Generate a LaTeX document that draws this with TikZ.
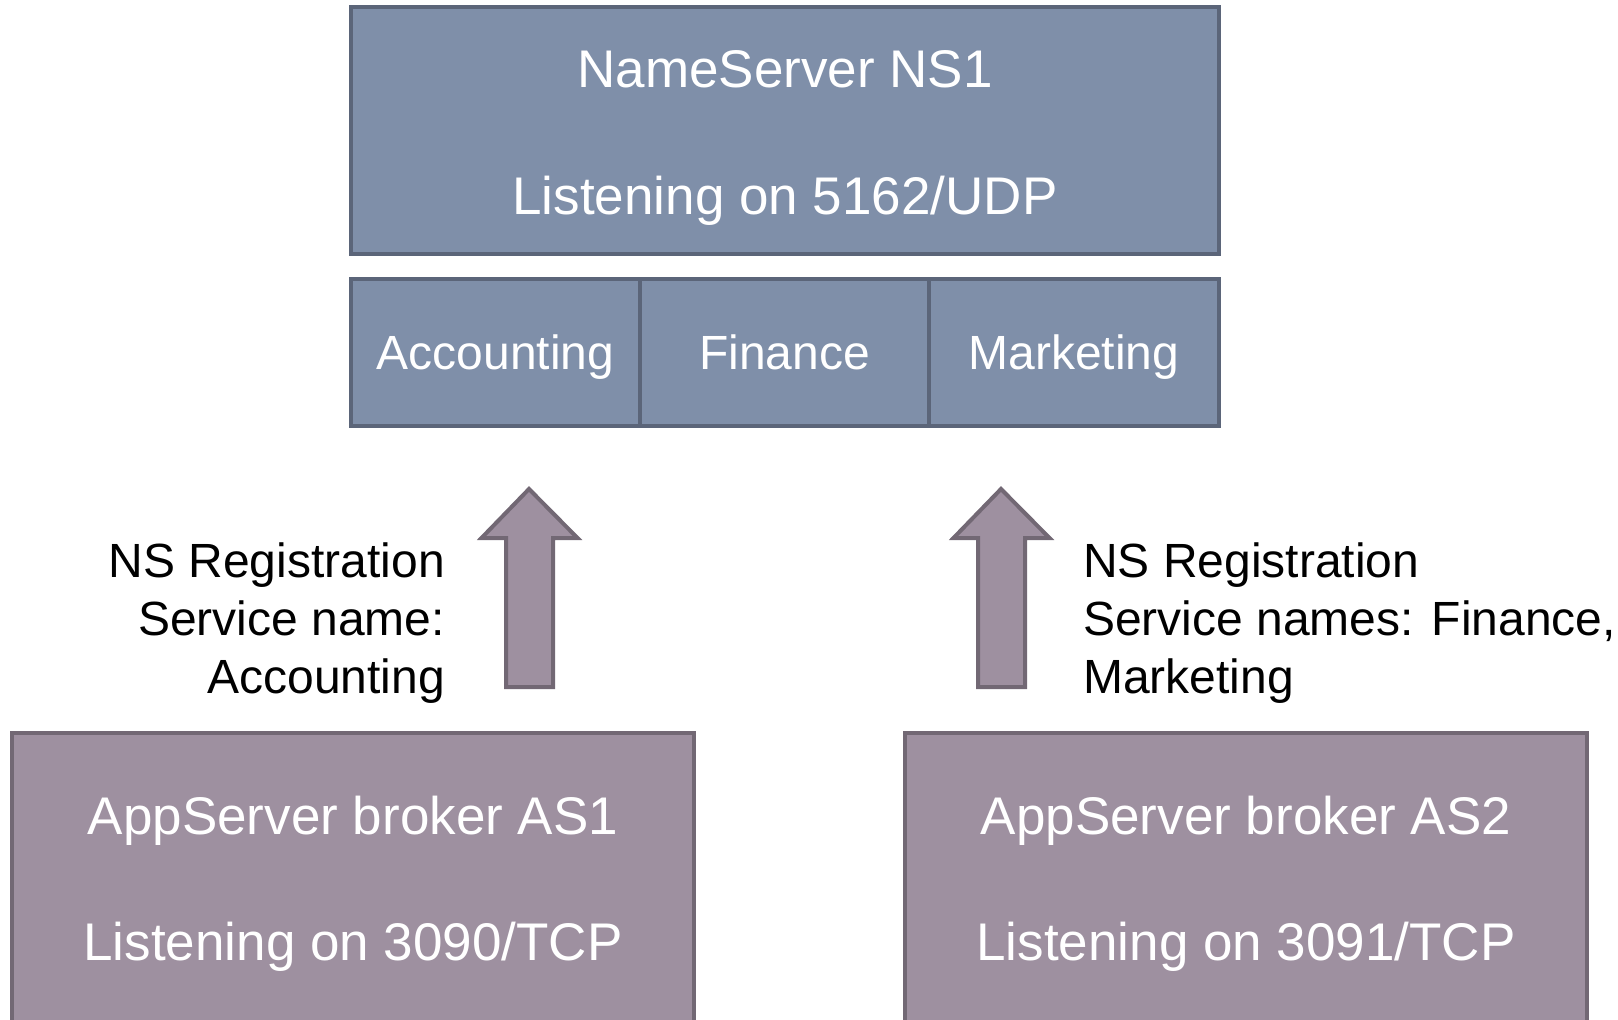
\documentclass[tikz,border=0pt]{standalone}
\usepackage{fontspec}
\setmainfont{Liberation Sans}
\definecolor{nsfill}{RGB}{127,143,169}
\definecolor{nsline}{RGB}{91,101,121}
\definecolor{asfill}{RGB}{158,144,160}
\definecolor{asline}{RGB}{114,104,116}
\begin{document}
\begin{tikzpicture}[x=1pt,y=-1pt,
  nsbox/.style={draw=nsline, fill=nsfill, line width=4pt, rectangle, inner sep=0pt},
  asbox/.style={draw=asline, fill=asfill, line width=4pt, rectangle, inner sep=0pt},
  bigtext/.style={text=white, font=\fontsize{53}{64}\selectfont, inner sep=0pt, anchor=base},
  svctext/.style={text=white, font=\fontsize{48}{58}\selectfont, text height=44pt, text depth=10pt},
  lbl/.style={font=\fontsize{48}{57.8}\selectfont, inner sep=0pt},
  blockarrow/.style={draw=asline, fill=asfill, line width=4pt, line join=miter}]
\useasboundingbox (0,0) rectangle (1618,1020);
\clip (0,0) rectangle (1618,1020);

% name server
\node[nsbox, minimum width=868pt, minimum height=247pt] (ns) at (785,130.5) {};
\node[bigtext] (nsname) at (785,87) {NameServer NS1};
\node[bigtext] (nsport) at (785,214) {Listening on 5162/UDP};

% registered services
\node[nsbox, svctext, minimum width=289pt, minimum height=147pt] (acc) at (495.5,352.5) {Accounting};
\node[nsbox, svctext, minimum width=289pt, minimum height=147pt] (fin) at (784.5,352.5) {Finance};
\node[nsbox, svctext, minimum width=290pt, minimum height=147pt] (mkt) at (1074,352.5) {Marketing};

% application server brokers
\node[asbox, minimum width=682pt, minimum height=340pt] (as1) at (353,903) {};
\node[bigtext] (as1name) at (353,834) {AppServer broker AS1};
\node[bigtext] (as1port) at (353,960) {Listening on 3090/TCP};
\node[asbox, minimum width=682pt, minimum height=340pt] (as2) at (1246,903) {};
\node[bigtext] (as2name) at (1246,834) {AppServer broker AS2};
\node[bigtext] (as2port) at (1246,960) {Listening on 3091/TCP};

% registration arrows
\coordinate (tip1) at (529,489);
\coordinate (tip2) at (1001,489);
\foreach \t in {tip1,tip2}
  \draw[blockarrow] (\t) -- ++(48.5,49) -- ++(-24.5,0) -- ++(0,149)
    -- ++(-47,0) -- ++(0,-149) -- ++(-24.5,0) -- cycle;

% registration labels (anchored on the baseline of the last line)
\node[lbl, align=right, anchor=base east] (reg1) at (445,693.5)
  {NS Registration\\Service name:\\Accounting};
\node[lbl, align=left, anchor=base west] (reg2) at (1083,693.5)
  {NS Registration\\Service names: Finance,\\Marketing};
\end{tikzpicture}
\end{document}
